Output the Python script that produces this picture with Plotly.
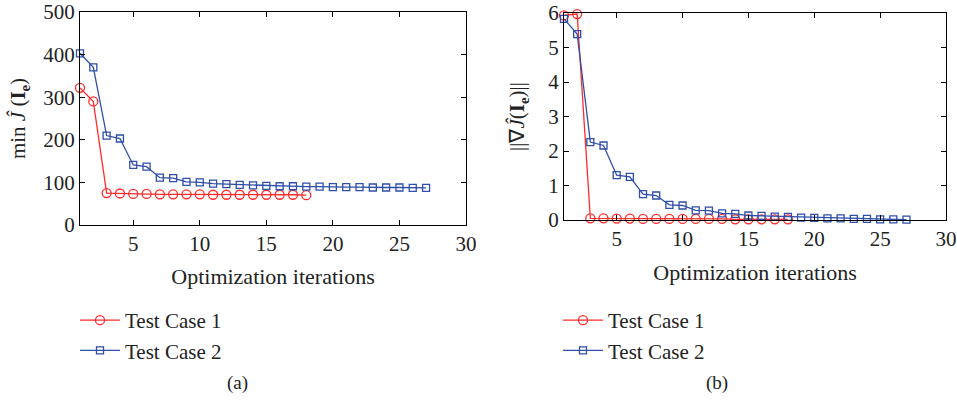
import plotly.graph_objects as go

iters1 = list(range(1, 19))
iters2 = list(range(1, 28))
cost1 = [322, 290, 75, 74, 73, 73, 72, 72, 72, 72, 71, 71, 71, 71, 71, 71, 71, 70]
cost2 = [403, 370, 210, 203, 141, 137, 111, 110, 101, 100, 97, 96, 94, 93, 92, 91,
         91, 90, 90, 89, 89, 89, 88, 88, 88, 87, 87]
grad1 = [5.93, 5.97, 0.05, 0.05, 0.04, 0.04, 0.03, 0.03, 0.03, 0.03, 0.03, 0.03,
         0.03, 0.02, 0.02, 0.02, 0.02, 0.02]
grad2 = [5.83, 5.39, 2.26, 2.16, 1.30, 1.25, 0.75, 0.71, 0.44, 0.42, 0.28, 0.27,
         0.19, 0.18, 0.13, 0.12, 0.10, 0.09, 0.07, 0.06, 0.05, 0.05, 0.03, 0.03,
         0.02, 0.02, 0.01]
names = ["Test Case 1", "Test Case 2"]
xticks = [5, 10, 15, 20, 25, 30]
yticks_a = [0, 100, 200, 300, 400, 500]
yticks_b = [0, 1, 2, 3, 4, 5, 6]

RED = "#ff2a2a"
BLUE = "#2f4fa8"
FONT = "Liberation Serif"
FS = 21

fig = go.Figure()

def add(x, y, name, color, symbol, size, xa, ya, leg):
    fig.add_trace(go.Scatter(
        x=x, y=y, name=name, mode="lines+markers",
        line=dict(color=color, width=1.3),
        marker=dict(symbol=symbol, size=size, color=color, line=dict(color=color, width=1.3)),
        xaxis=xa, yaxis=ya, legend=leg, cliponaxis=False))

add(iters1, cost1, names[0], RED, "circle-open", 9, "x", "y", "legend")
add(iters2, cost2, names[1], BLUE, "square-open", 7, "x", "y", "legend")
add(iters1, grad1, names[0], RED, "circle-open", 9, "x2", "y2", "legend2")
add(iters2, grad2, names[1], BLUE, "square-open", 7, "x2", "y2", "legend2")

axis_common = dict(showline=True, linecolor="black", linewidth=1.2, mirror="ticks",
                   ticks="inside", ticklen=5, tickcolor="black", showgrid=False,
                   zeroline=False, automargin=False,
                   tickfont=dict(family=FONT, size=FS, color="#222"))

W, H = 957, 404
fig.update_layout(
    width=W, height=H, margin=dict(l=0, r=0, t=0, b=0, autoexpand=False),
    plot_bgcolor="white", paper_bgcolor="white",
    font=dict(family=FONT, size=FS, color="#222"),
    xaxis=dict(domain=[80 / W, 466 / W], range=[1, 30], tickvals=xticks,
               title=dict(text="Optimization iterations", standoff=13,
                          font=dict(family=FONT, size=22)),
               anchor="y", **axis_common),
    yaxis=dict(domain=[(H - 225) / H, (H - 12) / H], range=[0, 500], tickvals=yticks_a,
               title=dict(text="min <i>Ĵ</i> (<b>I</b><sub><b>e</b></sub>)", standoff=11,
                          font=dict(family=FONT, size=FS)),
               anchor="x", **axis_common),
    xaxis2=dict(domain=[564 / W, 946 / W], range=[1, 30], tickvals=xticks,
                title=dict(text="Optimization iterations", standoff=14,
                           font=dict(family=FONT, size=22)),
                anchor="y2", **axis_common),
    yaxis2=dict(domain=[(H - 220) / H, (H - 13) / H], range=[0, 6], tickvals=yticks_b,
                title=dict(text="||∇<i>Ĵ</i>(<b>I</b><sub><b>e</b></sub>)||", standoff=17,
                           font=dict(family=FONT, size=FS)),
                anchor="x2", **axis_common),
    legend=dict(x=75 / W, y=(H - 300) / H, xanchor="left", yanchor="top",
                bgcolor="rgba(0,0,0,0)", font=dict(family=FONT, size=FS),
                tracegroupgap=0, itemwidth=40),
    legend2=dict(x=558 / W, y=(H - 300) / H, xanchor="left", yanchor="top",
                 bgcolor="rgba(0,0,0,0)", font=dict(family=FONT, size=FS),
                 tracegroupgap=0, itemwidth=40),
    showlegend=True,
)

fig.add_annotation(text="(a)", x=237 / W, y=(H - 383) / H, xref="paper", yref="paper",
                   xanchor="center", yanchor="middle",
                   showarrow=False, font=dict(family=FONT, size=19))
fig.add_annotation(text="(b)", x=717 / W, y=(H - 383) / H, xref="paper", yref="paper",
                   xanchor="center", yanchor="middle",
                   showarrow=False, font=dict(family=FONT, size=19))

fig.write_html("out.html", config={"displayModeBar": False},
               post_script="document.body.style.margin='0';")
